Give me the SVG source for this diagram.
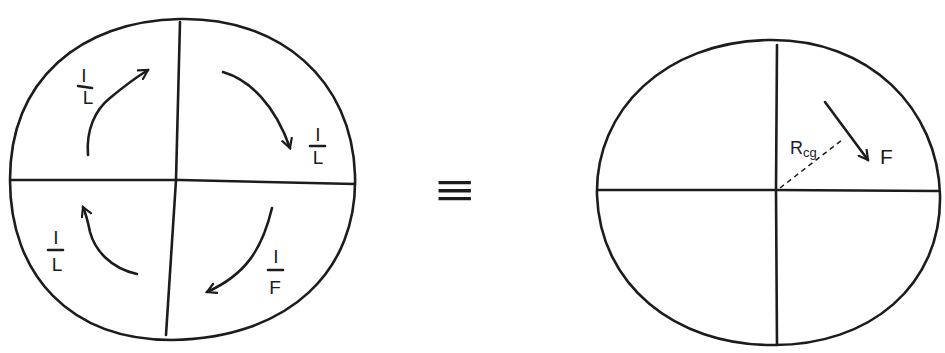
<svg xmlns="http://www.w3.org/2000/svg" width="945" height="353" viewBox="0 0 945 353">
<style>
.s{fill:none;stroke:#1c1c1c;stroke-width:2.6;stroke-linecap:round;stroke-linejoin:round}
.t{font-family:"Liberation Sans",Arial,sans-serif;fill:#1c1c1c}
</style>
<defs>
<marker id="ah" viewBox="0 0 12 12" refX="10" refY="6" markerWidth="12" markerHeight="12" markerUnits="userSpaceOnUse" orient="auto">
<path d="M1,1 L10,6 L1,11" fill="none" stroke="#1c1c1c" stroke-width="2.2" stroke-linecap="round"/>
</marker>
</defs>
<rect width="945" height="353" fill="#fff"/>
<g id="left-circle">
<path class="s" d="M180,19 C280,17 352,80 355,175 C358,270 290,338 172,340 C70,340 10,275 10,180 C10,80 80,21 180,19 Z"/>
<path class="s" d="M180,22 L176,180 L166,335"/>
<path class="s" d="M11,180 L180,180 L355,184"/>
</g>
<g id="right-circle">
<path class="s" d="M768,40 C870,38 938,110 940,195 C942,285 870,346 772,345 C675,345 600,285 597,195 C595,110 665,42 768,40 Z"/>
<path class="s" d="M777,45 L776,190 L777,345"/>
<path class="s" d="M598,190 L776,190 L938,191"/>
</g>
<g id="equiv">
<text class="t" x="0" y="206" font-size="46" text-anchor="middle" transform="translate(455,0) scale(1.45,1)">≡</text>
</g>
<g id="labels">
<text class="t" x="84" y="82" font-size="19" text-anchor="middle">I</text>
<line class="s" x1="78" y1="86" x2="92" y2="88" stroke-width="2"/>
<text class="t" x="88" y="104" font-size="19" text-anchor="middle">L</text>
<text class="t" x="318" y="141" font-size="19" text-anchor="middle">I</text>
<line class="s" x1="310" y1="146" x2="325" y2="146" stroke-width="2"/>
<text class="t" x="318" y="164" font-size="19" text-anchor="middle">L</text>
<text class="t" x="56" y="244" font-size="19" text-anchor="middle">I</text>
<line class="s" x1="48" y1="250" x2="63" y2="250" stroke-width="2"/>
<text class="t" x="57" y="271" font-size="19" text-anchor="middle">L</text>
<text class="t" x="276" y="263" font-size="19" text-anchor="middle">I</text>
<line class="s" x1="268" y1="270" x2="283" y2="270" stroke-width="2"/>
<text class="t" x="275" y="294" font-size="19" text-anchor="middle">F</text>
<text class="t" x="790" y="154" font-size="18">R<tspan font-size="13" dy="3">cg</tspan></text>
<text class="t" x="880" y="164" font-size="21">F</text>
</g>
<g id="connectors">
<path class="s" d="M88,155 C86,130 95,110 110,98 C122,88 135,78 148,70" marker-end="url(#ah)"/>
<path class="s" d="M223,72 C250,80 275,105 290,148" marker-end="url(#ah)"/>
<path class="s" d="M137,274 C110,268 95,250 90,232 C88,222 86,214 83,207" marker-end="url(#ah)"/>
<path class="s" d="M272,208 C262,250 245,275 207,292" marker-end="url(#ah)"/>
<path class="s" d="M825,102 L868,160" marker-end="url(#ah)"/>
<path d="M780,188 L842,140" fill="none" stroke="#1c1c1c" stroke-width="1.5" stroke-dasharray="5,4"/>
</g>
</svg>
